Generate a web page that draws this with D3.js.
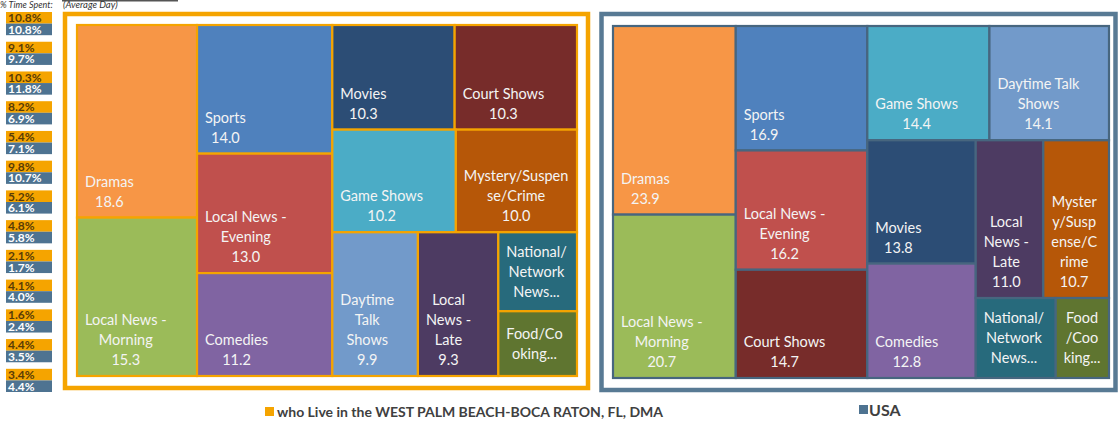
<!DOCTYPE html>
<html>
<head>
<meta charset="utf-8">
<script src="https://cdn.jsdelivr.net/npm/d3@7"></script>
<style>
  body { margin: 0; background: #fff; }
  svg { display: block; }
</style>
</head>
<body>
<svg id="chart" width="1120" height="424"></svg>
<script>
// genres, in the order of the % list on the left
const genres = [
    "Dramas", "Local News - Morning", "Sports", "Local News - Evening", "Comedies",
    "Movies", "Court Shows", "Game Shows", "Mystery/Suspense/Crime",
    "Daytime Talk Shows", "Local News - Late", "National/Network News", "Food/Cooking"
];
// hours shown in the treemaps
const wpbHours = [18.6, 15.3, 14.0, 13.0, 11.2, 10.3, 10.3, 10.2, 10.0, 9.9, 9.3, 5.0, 4.1];
const usaHours = [23.9, 20.7, 16.9, 16.2, 12.8, 13.8, 14.7, 14.4, 10.7, 14.1, 11.0, 6.6, 4.4];
const genreColors = [
    "#f79646", "#9bbb59", "#4f81bd", "#c0504d", "#8064a2",
    "#2c4d75", "#772c2a", "#4bacc6", "#b65708",
    "#729aca", "#4d3b62", "#276a7c", "#5f7530"
];
// % time spent column
const wpbPct = [10.8, 9.1, 10.3, 8.2, 5.4, 9.8, 5.2, 4.8, 2.1, 4.1, 1.6, 4.4, 3.4];
const usaPct = [10.8, 9.7, 11.8, 6.9, 7.1, 10.7, 6.1, 5.8, 1.7, 4.0, 2.4, 3.5, 4.4];

const WPB = "#f5a400", USA = "#587a94";
const FONT = "Lato, 'Open Sans', sans-serif";
const FS = 14.5, LINE = 20, PAD = 8;

const svg = d3.select("#chart");

// ---- header bits
svg.append("rect").attr("x", 62).attr("y", 0).attr("width", 116).attr("height", 1.5).attr("fill", "#555");
svg.append("text").attr("x", 0).attr("y", 8).attr("font-family", FONT).attr("font-size", 9)
    .attr("font-style", "italic").attr("fill", "#333").text("% Time Spent:");
svg.append("text").attr("x", 63).attr("y", 8).attr("font-family", FONT).attr("font-size", 9.5)
    .attr("font-style", "italic").attr("fill", "#333").text("(Average Day)");

// ---- % column
const yPct = d3.scaleBand().domain(d3.range(genres.length)).range([12, 392]).paddingInner(0.22);
const pct = svg.append("g").attr("font-family", FONT).attr("font-size", 12).attr("font-weight", "bold");
const pctRow = pct.selectAll("g").data(genres).join("g")
    .attr("transform", (d, i) => `translate(6,${yPct(i)})`);
pctRow.append("rect").attr("width", 46).attr("height", yPct.bandwidth() / 2).attr("fill", WPB);
pctRow.append("rect").attr("y", yPct.bandwidth() / 2).attr("width", 46).attr("height", yPct.bandwidth() / 2).attr("fill", "#4e7391");
pctRow.append("text").attr("x", 2).attr("y", yPct.bandwidth() / 4).attr("dy", "0.36em")
    .attr("fill", "#5a3c06").text((d, i) => wpbPct[i].toFixed(1) + "%");
pctRow.append("text").attr("x", 2).attr("y", yPct.bandwidth() * 3 / 4).attr("dy", "0.36em")
    .attr("fill", "#fff").text((d, i) => usaPct[i].toFixed(1) + "%");

// ---- treemap tiling: squarified, but tall cells are tolerated a bit more than wide ones
const TALL_TOLERANCE = 1.444;
function aspectCost(w, h) {
    return w >= h ? w / h : h / w / TALL_TOLERANCE;
}
function excelTile(parent, x0, y0, x1, y1) {
    const nodes = parent.children;
    let value = parent.value;
    let i0 = 0;
    while (i0 < nodes.length) {
        const dx = x1 - x0, dy = y1 - y0;
        const across = dx < dy;
        const side = across ? dx : dy;
        let best = Infinity, sum = 0, i1 = i0;
        for (let i = i0; i < nodes.length; i++) {
            const s = sum + nodes[i].value;
            const thick = (across ? dy : dx) * s / value;
            let worst = 0;
            for (let j = i0; j <= i; j++) {
                const len = side * nodes[j].value / s;
                worst = Math.max(worst, across ? aspectCost(len, thick) : aspectCost(thick, len));
            }
            if (worst > best) break;
            best = worst; sum = s; i1 = i + 1;
        }
        const row = {value: sum, children: nodes.slice(i0, i1)};
        if (across) d3.treemapDice(row, x0, y0, x1, y0 += dy * sum / value);
        else d3.treemapSlice(row, x0, y0, x0 += dx * sum / value, y1);
        value -= sum;
        i0 = i1;
    }
}

// text measuring + wrapping
const measurer = svg.append("text").attr("font-family", FONT).attr("font-size", FS).attr("visibility", "hidden");
function textW(s) {
    measurer.text(s);
    return measurer.node().getComputedTextLength();
}
function wrapName(name, maxW) {
    const lines = [];
    let line = "", broken = false;
    for (const w of name.split(" ")) {
        const trial = line ? line + " " + w : w;
        if (!broken && textW(trial) <= maxW) { line = trial; continue; }
        if (line) lines.push(line);
        line = ""; broken = false;
        if (textW(w) <= maxW) { line = w; continue; }
        let frag = "";
        for (const ch of w) {
            if (frag && textW(frag + ch) > maxW) { lines.push(frag); frag = ch; }
            else frag += ch;
        }
        line = frag; broken = true;
    }
    if (line) lines.push(line);
    return lines;
}

function drawPanel(hours, frame, inner, frameColor, lineColor) {
    svg.append("rect")
        .attr("x", frame.x).attr("y", frame.y).attr("width", frame.w).attr("height", frame.h)
        .attr("fill", "#fff").attr("stroke", frameColor).attr("stroke-width", 4.5);

    const root = d3.hierarchy({
        children: genres.map((g, i) => ({name: g, value: hours[i], color: genreColors[i]}))
    })
        .sum(d => d.value || 0)
        .sort((a, b) => b.value - a.value);

    d3.treemap().size([inner.w, inner.h]).tile(excelTile)(root);

    const g = svg.append("g").attr("transform", `translate(${inner.x},${inner.y})`);

    const cell = g.selectAll("g").data(root.leaves()).join("g");
    cell.append("rect")
        .attr("x", d => d.x0).attr("y", d => d.y0)
        .attr("width", d => d.x1 - d.x0).attr("height", d => d.y1 - d.y0)
        .attr("fill", d => d.data.color)
        .attr("stroke", lineColor).attr("stroke-width", 2.2);

    cell.each(function (d) {
        const w = d.x1 - d.x0, h = d.y1 - d.y0;
        const nameLines = wrapName(d.data.name, w - 2 * PAD);
        let lines = nameLines.concat([d3.format(".1f")(d.value)]);
        const maxLines = Math.floor((h - 12) / LINE);
        let cy;
        if (lines.length > maxLines) {
            lines = nameLines.slice(0, maxLines);
            lines[lines.length - 1] += "...";
            cy = (d.y0 + d.y1) / 2 - (lines.length - 1) * LINE / 2;
        } else {
            cy = d.y1 - 16 - (lines.length - 1) * LINE;
        }
        const blockW = d3.max(lines, textW);
        d3.select(this).append("text")
            .attr("font-family", FONT).attr("font-size", FS)
            .attr("fill", "#f4f4f4").attr("text-anchor", "middle")
            .selectAll("tspan").data(lines).join("tspan")
            .attr("x", d.x0 + PAD + blockW / 2)
            .attr("y", (l, k) => cy + k * LINE)
            .attr("dy", "0.35em")
            .text(l => l);
    });
}

drawPanel(wpbHours, {x: 65, y: 14, w: 523, h: 374}, {x: 77, y: 25, w: 500, h: 351}, WPB, WPB);
drawPanel(usaHours, {x: 601.5, y: 14, w: 514, h: 376}, {x: 613, y: 26, w: 496, h: 352}, USA, "#47667f");

// ---- legend
const legend = svg.append("g").attr("font-family", FONT).attr("font-weight", "bold").attr("fill", "#404040");
legend.append("rect").attr("x", 265).attr("y", 407).attr("width", 9).attr("height", 9).attr("fill", WPB);
legend.append("text").attr("x", 277).attr("y", 416.5).attr("font-size", 14)
    .text("who Live in the WEST PALM BEACH-BOCA RATON, FL, DMA");
legend.append("rect").attr("x", 859).attr("y", 405).attr("width", 9).attr("height", 9).attr("fill", "#4e7391");
legend.append("text").attr("x", 869).attr("y", 416).attr("font-size", 16).text("USA");
</script>
</body>
</html>
